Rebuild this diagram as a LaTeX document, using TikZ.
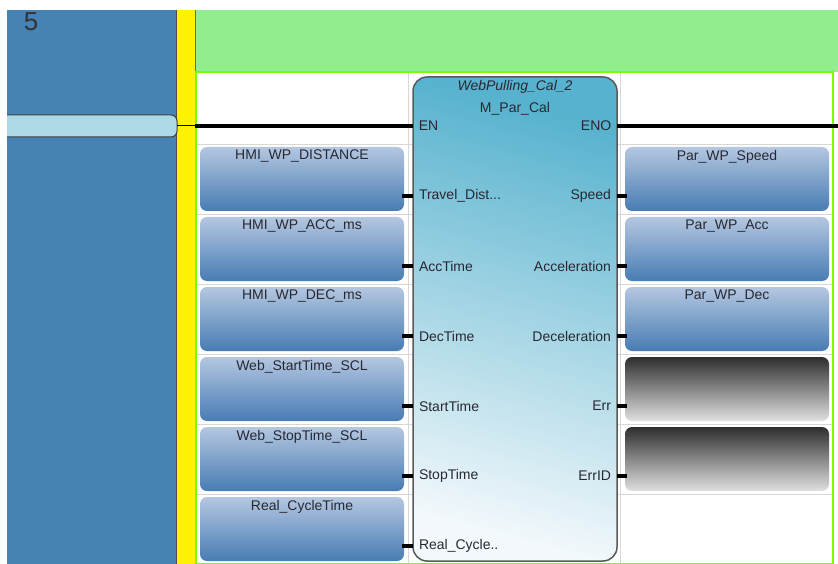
\documentclass[tikz,border=0pt]{standalone}
\usepackage{fontspec}
\setmainfont{Liberation Sans}
\usetikzlibrary{positioning}
\definecolor{railblue}{RGB}{70,130,180}
\definecolor{railgreen}{RGB}{144,238,144}
\definecolor{linegreen}{RGB}{124,252,0}
\definecolor{barblue}{RGB}{173,216,230}
\definecolor{fbtop}{RGB}{86,178,206}
\definecolor{fbbot}{RGB}{242,248,251}
\definecolor{vartop}{RGB}{180,199,224}
\definecolor{varbot}{RGB}{72,124,180}
\definecolor{gridgray}{RGB}{215,215,215}
\definecolor{txt}{RGB}{40,40,50}
\tikzset{
  varbox/.style={rounded corners=7pt, top color=vartop, bottom color=varbot, minimum width=204pt, minimum height=64pt, inner sep=0pt},
  errbox/.style={varbox, top color=black!82, bottom color=black!12},
  fbbox/.style={rounded corners=14pt, draw=black!65, line width=1.5pt, top color=fbtop, bottom color=fbbot, shading angle=-15, minimum width=204pt, minimum height=484pt, inner sep=0pt},
  pinstub/.style={line width=4pt},
  pinlabel/.style={font=\fontsize{14}{16}\selectfont, text=txt, inner sep=0pt},
  varlabel/.style={font=\fontsize{14}{16}\selectfont, text=txt, anchor=north, inner sep=0pt, yshift=-3pt},
}
\begin{document}
\begin{tikzpicture}[x=1pt, y=-1pt]
\useasboundingbox (0,0) rectangle (838,564);
% rung background
\fill[railblue] (7,10) rectangle (176,564);
\draw[black!70] (176,10) -- (176,564);
\fill[yellow] (177,10) rectangle (195,564);
\fill[railgreen] (195,10) rectangle (838,72);
\draw[black!60] (195.5,10) -- (195.5,72);
\node[font=\fontsize{26}{26}\selectfont, text=black!80] (rung) at (31,22) {5};
% grid
\foreach \y in {144,214,...,494}
  \draw[gridgray] (196,\y) -- (833,\y);
\draw[gridgray] (408,72) -- (408,564) (620,72) -- (620,564);
\draw[linegreen, line width=1.5pt] (196,564) -- (196,72) -- (833,72) -- (833,564);
\draw[linegreen, line width=1pt] (196,563.5) -- (833,563.5);
% power rail bar
\fill[barblue, rounded corners=6pt] (0,115) -- (177,115) -- (177,137) -- (0,137) -- cycle;
\fill[barblue] (7,115) rectangle (20,137);
\fill[white] (0,110) rectangle (7,140);
\draw[black!75, line width=1pt, rounded corners=6pt] (7,115) -- (177,115) -- (177,137) -- (7,137);
\coordinate (bar) at (177,126);
\coordinate (rail) at (195,126);
\draw[black, line width=1pt] (bar) -- (rail);
% function block
\node[fbbox] (fb) at (515,319) {};
\node[font=\itshape\fontsize{14}{16}\selectfont, text=txt] (inst) at (515,87) {WebPulling\_Cal\_2};
\node[pinlabel, below=5pt of inst] (type) {M\_Par\_Cal};
\coordinate (en) at (413,126);
\coordinate (eno) at (617,126);
\draw[line width=3.5pt] (rail) -- (en) node[pinlabel, right=4pt] {EN};
\draw[line width=3.5pt] (eno) node[pinlabel, left=4pt] {ENO} -- (838,126);
% inputs
\foreach \v/\p [count=\k] in {HMI\_WP\_DISTANCE/{Travel\_Dist.{}.{}.}, HMI\_WP\_ACC\_ms/AccTime, HMI\_WP\_DEC\_ms/DecTime, Web\_StartTime\_SCL/StartTime, Web\_StopTime\_SCL/StopTime, Real\_CycleTime/{Real\_Cycle.{}.}} {
  \node[varbox, label={[varlabel]north:\v}] (in\k) at (302,109+70*\k) {};
  \coordinate (pi\k) at (413,126+70*\k);
  \draw[pinstub] ([xshift=-2pt]in\k.east |- pi\k) -- (pi\k) node[pinlabel, right=4pt] {\p};
}
% outputs
\foreach \v/\p [count=\k] in {Par\_WP\_Speed/Speed, Par\_WP\_Acc/Acceleration, Par\_WP\_Dec/Deceleration} {
  \node[varbox, label={[varlabel]north:\v}] (out\k) at (727,109+70*\k) {};
  \coordinate (po\k) at (617,126+70*\k);
  \draw[pinstub] (po\k) node[pinlabel, left=4pt] {\p} -- ([xshift=2pt]out\k.west |- po\k);
}
\foreach \p [count=\k from 4] in {Err, ErrID} {
  \node[errbox] (out\k) at (727,109+70*\k) {};
  \coordinate (po\k) at (617,126+70*\k);
  \draw[pinstub] (po\k) node[pinlabel, left=4pt] {\p} -- ([xshift=2pt]out\k.west |- po\k);
}
\end{tikzpicture}
\end{document}
